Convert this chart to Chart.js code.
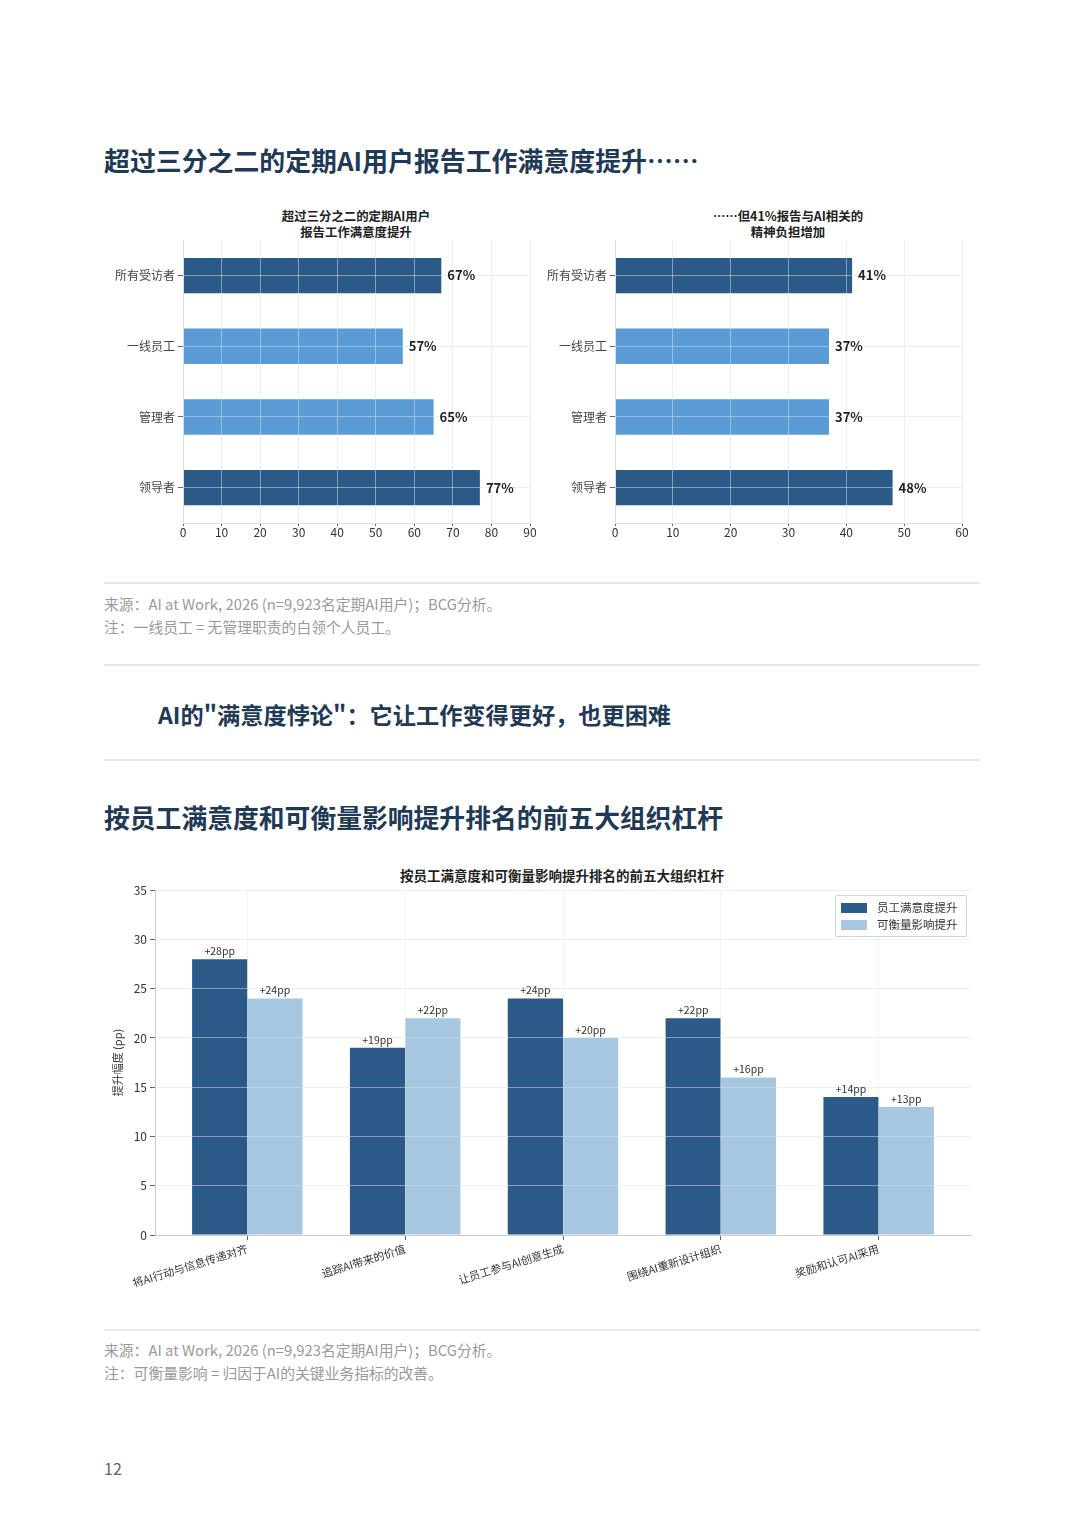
<!DOCTYPE html>
<html lang="zh-CN">
<head>
<meta charset="utf-8">
<script src="https://cdn.jsdelivr.net/npm/chart.js@4.4.1/dist/chart.umd.min.js"></script>
<style>
  body { margin: 0; width: 1080px; height: 1528px; background: #fff; position: relative; overflow: hidden;
         font-family: "Noto Sans CJK SC", "Noto Sans", sans-serif; }
  .abs { position: absolute; white-space: nowrap; }
  .heading { font-weight: bold; color: #1f3a56; line-height: 30px; }
  .rule { position: absolute; left: 104px; width: 876px; height: 2px; background: #e6e6e6; }
  .note { font-size: 14.8px; color: #9a9a9a; line-height: 20px; }
  .ctitle { font-size: 12.4px; font-weight: bold; color: #222; line-height: 16px; text-align: center; }
  .box { position: absolute; }
  .legend { position: absolute; left: 835px; top: 895px; width: 130px; height: 40px; border: 1px solid #d4d4d4;
            border-radius: 2px; background: rgba(255,255,255,0.9); font-size: 11.5px; color: #333; }
  .legend div { position: absolute; left: 5px; height: 18px; line-height: 18px; }
  .legend span { display: inline-block; width: 26px; height: 10px; margin-right: 10px; vertical-align: -1px; }
</style>
</head>
<body>

<div class="abs heading" style="left:104px; top:145px; font-size:25.9px;">超过三分之二的定期AI用户报告工作满意度提升……</div>

<div class="abs ctitle" style="left:256px; top:208px; width:200px;">超过三分之二的定期AI用户<br>报告工作满意度提升</div>
<div class="abs ctitle" style="left:688px; top:208px; width:200px;">……但41%报告与AI相关的<br>精神负担增加</div>

<div class="box" style="left:100px; top:230px; width:445px; height:315px;"><canvas id="satChart"></canvas></div>
<div class="box" style="left:532px; top:230px; width:445px; height:315px;"><canvas id="burdenChart"></canvas></div>

<div class="rule" style="top:582px;"></div>
<div class="abs note" style="left:104px; top:594px;">来源：AI at Work, 2026 (n=9,923名定期AI用户)；BCG分析。</div>
<div class="abs note" style="left:104px; top:617px;">注：一线员工 = 无管理职责的白领个人员工。</div>
<div class="rule" style="top:664px;"></div>

<div class="abs heading" style="left:158px; top:699px; font-size:23.2px;">AI的"满意度悖论"：它让工作变得更好，也更困难</div>
<div class="rule" style="top:759px;"></div>

<div class="abs heading" style="left:104px; top:802px; font-size:25.8px;">按员工满意度和可衡量影响提升排名的前五大组织杠杆</div>

<div class="abs ctitle" style="left:262px; top:867px; width:600px; font-size:13.5px;">按员工满意度和可衡量影响提升排名的前五大组织杠杆</div>
<div class="box" style="left:100px; top:880px; width:880px; height:420px;"><canvas id="leverChart"></canvas></div>
<div class="legend">
  <div style="top:2px;"><span style="background:#2c5a88;"></span>员工满意度提升</div>
  <div style="top:19px;"><span style="background:#a7c7e1;"></span>可衡量影响提升</div>
</div>

<div class="rule" style="top:1329px;"></div>
<div class="abs note" style="left:104px; top:1340px;">来源：AI at Work, 2026 (n=9,923名定期AI用户)；BCG分析。</div>
<div class="abs note" style="left:104px; top:1363px;">注：可衡量影响 = 归因于AI的关键业务指标的改善。</div>

<div class="abs" style="left:104px; top:1456px; font-size:16px; color:#666;">12</div>

<script>
// respondent groups (top two charts)
const groupLabels = ['所有受访者', '一线员工', '管理者', '领导者'];
const satisfactionPct = [67, 57, 65, 77];   // report higher job satisfaction
const burdenPct = [41, 37, 37, 48];         // report more AI-related mental load
const satAxisMax = 90;
const burdenAxisMax = 60;

// organisational levers (bottom chart)
const leverLabels = ['将AI行动与信息传递对齐', '追踪AI带来的价值', '让员工参与AI创意生成', '围绕AI重新设计组织', '奖励和认可AI采用'];
const satisfactionLift = [28, 19, 24, 22, 14];
const impactLift = [24, 22, 20, 16, 13];
const liftAxisMax = 35;

const darkBlue = '#2c5a88';
const midBlue = '#5b9bd5';
const paleBlue = '#a7c7e1';
const groupColors = [darkBlue, midBlue, midBlue, darkBlue];
const gridCol = 'rgba(215,226,238,0.5)';
const cjk = '"Noto Sans CJK SC", "Noto Sans", sans-serif';

Chart.defaults.font.family = cjk;

// draws the value next to / above each bar
const valueLabels = {
    id: 'valueLabels',
    afterDraw(chart, args, opts) {
        const ctx = chart.ctx;
        ctx.save();
        ctx.font = opts.font;
        ctx.fillStyle = opts.color;
        chart.data.datasets.forEach((ds, di) => {
            chart.getDatasetMeta(di).data.forEach((bar, i) => {
                const txt = opts.prefix + ds.data[i] + opts.suffix;
                if (chart.options.indexAxis === 'y') {
                    ctx.textAlign = 'left';
                    ctx.textBaseline = 'middle';
                    ctx.fillText(txt, bar.x + 6, bar.y);
                } else {
                    ctx.textAlign = 'center';
                    ctx.textBaseline = 'bottom';
                    ctx.fillText(txt, bar.x, bar.y - 3);
                }
            });
        });
        ctx.restore();
    }
};

function makeHBar(id, values, max) {
    new Chart(document.getElementById(id), {
        type: 'bar',
        data: {
            labels: groupLabels,
            datasets: [{ data: values, backgroundColor: groupColors, barPercentage: 0.5, categoryPercentage: 1 }]
        },
        options: {
            indexAxis: 'y',
            responsive: true,
            maintainAspectRatio: false,
            animation: false,
            layout: { padding: { top: 8, right: 15, left: 0, bottom: 0 } },
            plugins: {
                legend: { display: false },
                tooltip: { enabled: false },
                valueLabels: { font: 'bold 13px ' + cjk, color: '#222', prefix: '', suffix: '%' }
            },
            scales: {
                x: {
                    min: 0, max: max,
                    ticks: { stepSize: 10, color: '#333', font: { size: 12 }, padding: -1 },
                    grid: { z: 1, color: gridCol, tickColor: '#666', tickLength: 3 },
                    border: { z: 2, color: '#ddd' },
                    afterFit(s) { s.height = 22; }
                },
                y: {
                    ticks: { color: '#444', font: { size: 12 }, padding: 3 },
                    grid: { z: 1, offset: false, color: gridCol, tickColor: '#666', tickLength: 5 },
                    border: { z: 2, color: '#ddd' },
                    afterFit(s) { s.width = 83; }
                }
            }
        },
        plugins: [valueLabels]
    });
}

makeHBar('satChart', satisfactionPct, satAxisMax);
makeHBar('burdenChart', burdenPct, burdenAxisMax);

// matplotlib-like side margin on the category axis
const leverMargin = 0.585;

new Chart(document.getElementById('leverChart'), {
    type: 'bar',
    data: {
        labels: leverLabels,
        datasets: [
            { label: '员工满意度提升', data: satisfactionLift, backgroundColor: darkBlue, barPercentage: 1, categoryPercentage: 0.7 },
            { label: '可衡量影响提升', data: impactLift, backgroundColor: paleBlue, barPercentage: 1, categoryPercentage: 0.7 }
        ]
    },
    options: {
        responsive: true,
        maintainAspectRatio: false,
        animation: false,
        layout: { padding: { top: 10, right: 9, left: 0, bottom: 0 } },
        plugins: {
            legend: { display: false },
            tooltip: { enabled: false },
            valueLabels: { font: '10.5px ' + cjk, color: '#333', prefix: '+', suffix: 'pp' }
        },
        scales: {
            x: {
                ticks: { minRotation: 17, maxRotation: 17, color: '#333', font: { size: 11 }, padding: 2 },
                grid: { z: 1, offset: false, color: 'rgba(225,230,236,0.45)', tickColor: '#666', tickLength: 5 },
                border: { z: 2, color: '#ccc' },
                afterBuildTicks(s) {
                    s._startValue = -leverMargin;
                    s._valueRange = leverLabels.length - 1 + 2 * leverMargin;
                },
                afterFit(s) { s.height = 65; }
            },
            y: {
                min: 0, max: liftAxisMax,
                ticks: { stepSize: 5, color: '#333', font: { size: 12 }, padding: 3 },
                grid: { z: 1, color: gridCol, tickColor: '#666', tickLength: 5 },
                border: { z: 2, color: '#ccc' },
                title: { display: true, text: '提升幅度 (pp)', color: '#333', font: { size: 11 }, padding: { top: 11, bottom: 0 } },
                afterFit(s) { s.width = 55; }
            }
        }
    },
    plugins: [valueLabels]
});
</script>
</body>
</html>
